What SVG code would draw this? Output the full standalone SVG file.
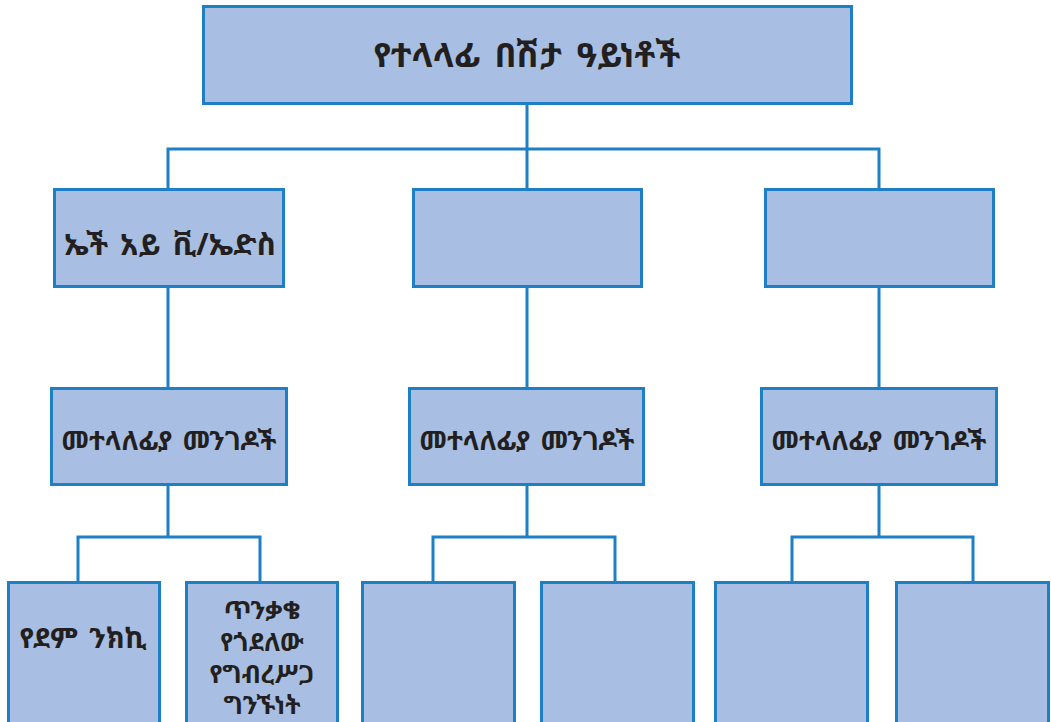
<svg xmlns="http://www.w3.org/2000/svg" width="1051" height="722" viewBox="0 0 1051 722">
<style>
.box{fill:#a8bfe3;stroke:#1f7fc4;stroke-width:3}
.ln{fill:none;stroke:#1f7fc4;stroke-width:3}
.t{font-family:"Noto Sans Ethiopic","Abyssinica SIL","DejaVu Sans","Noto Sans",sans-serif;font-weight:bold;fill:#231f20;text-anchor:middle;dominant-baseline:central}
.t1{font-size:34px;word-spacing:6px}
.t2{font-size:30px;word-spacing:4px}
.t3{font-size:26px;word-spacing:4px}
.t5{font-size:28px;word-spacing:4px}
.t4{font-size:25px}
</style>
<rect width="1051" height="722" fill="#ffffff"/>
<g id="connectors">
<path class="ln" d="M527,104 V189 M168,189 V149 H879 V189"/>
<path class="ln" d="M168,287 V388 M527,287 V388 M879,287 V388"/>
<path class="ln" d="M168,485 V537 M78,582 V537 H260 V582"/>
<path class="ln" d="M527,485 V537 M433,582 V537 H615 V582"/>
<path class="ln" d="M879,485 V537 M792,582 V537 H973 V582"/>
</g>
<g id="root"><rect class="box" x="203.5" y="6.5" width="648" height="97"/><text class="t t1" x="527" y="54">የተላላፊ በሽታ ዓይነቶች</text></g>
<g id="n-hiv"><rect class="box" x="54.5" y="189.5" width="229" height="97"/><text class="t t2" x="170" y="243">ኤች አይ ቪ/ኤድስ</text></g>
<g id="n-mid"><rect class="box" x="413.5" y="189.5" width="228" height="97"/></g>
<g id="n-right"><rect class="box" x="765.5" y="189.5" width="228" height="97"/></g>
<g id="m-left"><rect class="box" x="51.5" y="388.5" width="235" height="96"/><text class="t t3" x="169" y="440">መተላለፊያ መንገዶች</text></g>
<g id="m-mid"><rect class="box" x="409.5" y="388.5" width="234" height="96"/><text class="t t3" x="527" y="440">መተላለፊያ መንገዶች</text></g>
<g id="m-right"><rect class="box" x="761.5" y="388.5" width="235" height="96"/><text class="t t3" x="879" y="440">መተላለፊያ መንገዶች</text></g>
<g id="b1"><rect class="box" x="8.5" y="582.5" width="151" height="145"/><text class="t t5" x="83" y="637">የደም ንክኪ</text></g>
<g id="b2"><rect class="box" x="186.5" y="582.5" width="151" height="145"/>
<text class="t t4" x="262" y="609">ጥንቃቄ</text>
<text class="t t4" x="262" y="641">የጎደለው</text>
<text class="t t4" x="262" y="673">የግብረሥጋ</text>
<text class="t t4" x="262" y="704">ግንኙነት</text></g>
<g id="b3"><rect class="box" x="362.5" y="582.5" width="152" height="145"/></g>
<g id="b4"><rect class="box" x="541.5" y="582.5" width="152" height="145"/></g>
<g id="b5"><rect class="box" x="715.5" y="582.5" width="152" height="145"/></g>
<g id="b6"><rect class="box" x="896.5" y="582.5" width="152" height="145"/></g>
</svg>
